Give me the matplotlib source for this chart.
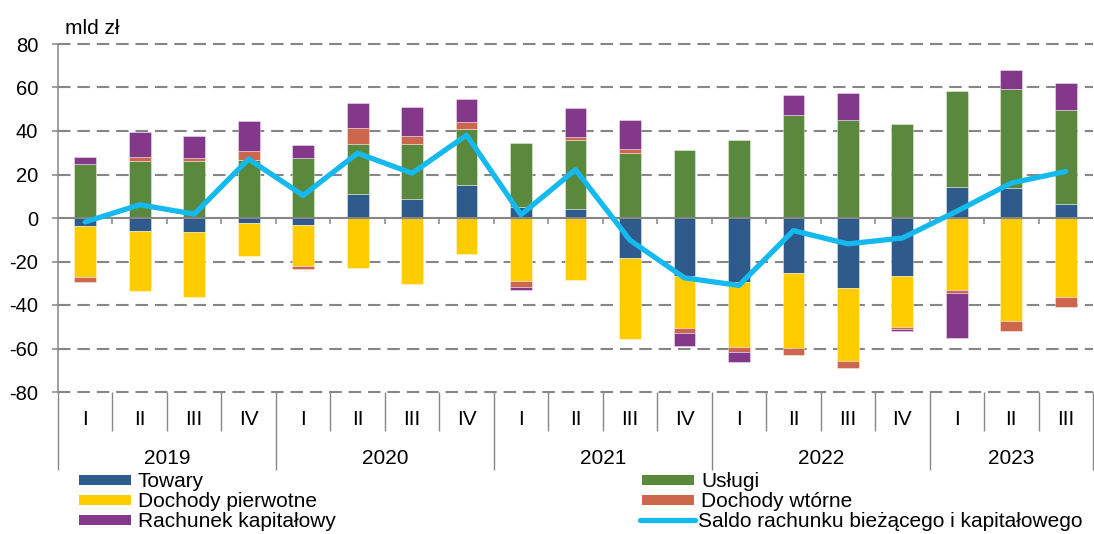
import matplotlib
matplotlib.use("Agg")
import matplotlib.pyplot as plt
import matplotlib.transforms as mtransforms
from matplotlib.patches import Rectangle
from matplotlib.lines import Line2D
import numpy as np

plt.rcParams['font.family'] = ['Liberation Sans', 'DejaVu Sans']

# ---------------- data ----------------
quarters = ["I", "II", "III", "IV"] * 4 + ["I", "II", "III"]
years = ["2019", "2020", "2021", "2022", "2023"]
year_n_quarters = [4, 4, 4, 4, 3]

towary = [-3.8, -5.8, -6.4, -2.3, -3.1, 11.0, 8.6, 15.1, 4.9, 4.3,
          -18.2, -26.5, -29.2, -25.5, -32.1, -26.8, 14.4, 13.6, 6.4]
uslugi = [24.8, 26.0, 26.0, 26.6, 27.7, 22.8, 25.2, 26.0, 29.4, 31.5,
          30.1, 31.3, 35.8, 47.2, 45.0, 43.0, 43.9, 45.7, 43.1]
dochody_pierwotne = [-23.1, -27.7, -29.8, -15.0, -18.8, -22.8, -30.4, -16.7, -29.1, -28.7,
                     -37.3, -24.2, -30.3, -34.4, -33.8, -23.1, -32.9, -47.4, -36.5]
dochody_wtorne = [-2.4, 2.1, 1.7, 4.1, -1.4, 7.5, 4.0, 2.9, -2.4, 1.4,
                  1.7, -2.0, -2.1, -2.9, -3.1, -1.1, -1.4, -4.6, -4.3]
rachunek_kapitalowy = [3.1, 11.3, 10.2, 13.9, 6.0, 11.5, 13.3, 10.6, -1.4, 13.6,
                       13.3, -6.0, -4.7, 9.3, 12.4, -0.9, -20.8, 8.6, 12.7]
saldo = [-1.8, 6.1, 1.8, 27.1, 10.4, 29.8, 20.6, 38.1, 1.5, 22.2,
         -10.2, -27.5, -31.0, -5.8, -11.9, -9.2, 3.1, 16.1, 21.4]

series_names = ["Towary", "Usługi", "Dochody pierwotne", "Dochody wtórne", "Rachunek kapitałowy"]
series_vals = [towary, uslugi, dochody_pierwotne, dochody_wtorne, rachunek_kapitalowy]
series_colors = ["#2F5A8C", "#5A883C", "#FFCC00", "#CC664C", "#84388A"]
line_name = "Saldo rachunku bieżącego i kapitałowego"
line_color = "#14B9EE"

# ---------------- figure ----------------
W, H = 1094, 534
fig = plt.figure(figsize=(W / 100, H / 100), dpi=100)
ax_l, ax_r, ax_t, ax_b = 58, 1093, 44, 392
ax = fig.add_axes([ax_l / W, 1 - ax_b / H, (ax_r - ax_l) / W, (ax_b - ax_t) / H])

n = len(quarters)
x = np.arange(n)
grid_c = "#868686"

pos_bottom = np.zeros(n)
neg_bottom = np.zeros(n)
for name, vals, col in zip(series_names, series_vals, series_colors):
    v = np.array(vals, dtype=float)
    bottoms = np.where(v >= 0, pos_bottom, neg_bottom)
    ax.bar(x, v, width=0.4, bottom=bottoms, color=col,
           edgecolor=(1, 1, 1, 0.45), linewidth=0.6, zorder=3, label=name)
    pos_bottom = pos_bottom + np.where(v >= 0, v, 0)
    neg_bottom = neg_bottom + np.where(v < 0, v, 0)

ax.plot(x, saldo, color=line_color, lw=3.8, zorder=5,
        solid_capstyle='round', solid_joinstyle='round', label=line_name)

ax.set_xlim(-0.5, n - 0.5)
ax.set_ylim(-80, 80)
ax.set_yticks(np.arange(-80, 81, 20))
ax.set_yticklabels([str(v) for v in range(-80, 81, 20)])
ax.set_xticks([])

for yv in range(-80, 81, 20):
    if yv == 0:
        continue
    ax.axhline(yv, color=grid_c, lw=1.5, linestyle=(0, (6, 3.3)), zorder=1, clip_on=False)
ax.axhline(0, color=grid_c, lw=1.5, zorder=4)

for s in ["top", "right", "bottom"]:
    ax.spines[s].set_visible(False)
ax.spines["left"].set_color(grid_c)
ax.spines["left"].set_linewidth(1.1)
ax.tick_params(axis='y', colors=grid_c, length=4.3, width=1.1, pad=10,
               labelsize=14.5, labelcolor="black")

# zero-line ticks at category boundaries
for b in np.arange(0.5, n - 0.5, 1.0):
    ax.plot([b, b], [0, -2.8], color=grid_c, lw=1.1, zorder=4, solid_capstyle='butt')

# category axis (two levels)
bt = mtransforms.blended_transform_factory(ax.transData, fig.transFigure)
def fy(py):
    return 1 - py / H

year_bounds = [-0.5]
for k in year_n_quarters:
    year_bounds.append(year_bounds[-1] + k)
for b in np.arange(-0.5, n, 1.0):
    is_year = any(abs(b - yb) < 1e-9 for yb in year_bounds)
    y_end = 470 if is_year else 431
    ax.plot([b, b], [fy(ax_b), fy(y_end)], transform=bt, color=grid_c,
            lw=1.0, clip_on=False, solid_capstyle='butt')

cap = 0.716 * 15 * 100 / 72
for i, q in enumerate(quarters):
    ax.text(i, fy(418 + cap / 2), q, transform=bt, ha='center', va='baseline', fontsize=15)
start = -0.5
for yr, k in zip(years, year_n_quarters):
    ax.text(start + k / 2, fy(457 + cap / 2), yr, transform=bt, ha='center',
            va='baseline', fontsize=15)
    start += k

fig.text(65 / W, fy(27 + cap / 2), "mld zł", ha='left', va='baseline', fontsize=15)

# legend (manual layout, two columns)
legend_items = [
    ("Towary", series_colors[0], 'patch', 79, 480),
    ("Dochody pierwotne", series_colors[2], 'patch', 79, 500),
    ("Rachunek kapitałowy", series_colors[4], 'patch', 79, 520),
    ("Usługi", series_colors[1], 'patch', 642, 480),
    ("Dochody wtórne", series_colors[3], 'patch', 642, 500),
    (line_name, line_color, 'line', 642, 520),
]
for label, col, kind, px, py in legend_items:
    if kind == 'patch':
        fig.patches.append(Rectangle((px / W, fy(py + 5)), 52 / W, 10 / H,
                                     transform=fig.transFigure, facecolor=col,
                                     edgecolor='none'))
        tx = px + 59
    else:
        fig.lines.append(Line2D([(px - 2) / W, (px + 53) / W], [fy(py), fy(py)],
                                transform=fig.transFigure, color=col, lw=3.8,
                                solid_capstyle='round'))
        tx = px + 56
    fig.text(tx / W, fy(py + cap / 2), label, ha='left', va='baseline', fontsize=15)

fig.savefig("out.png", dpi=100)
